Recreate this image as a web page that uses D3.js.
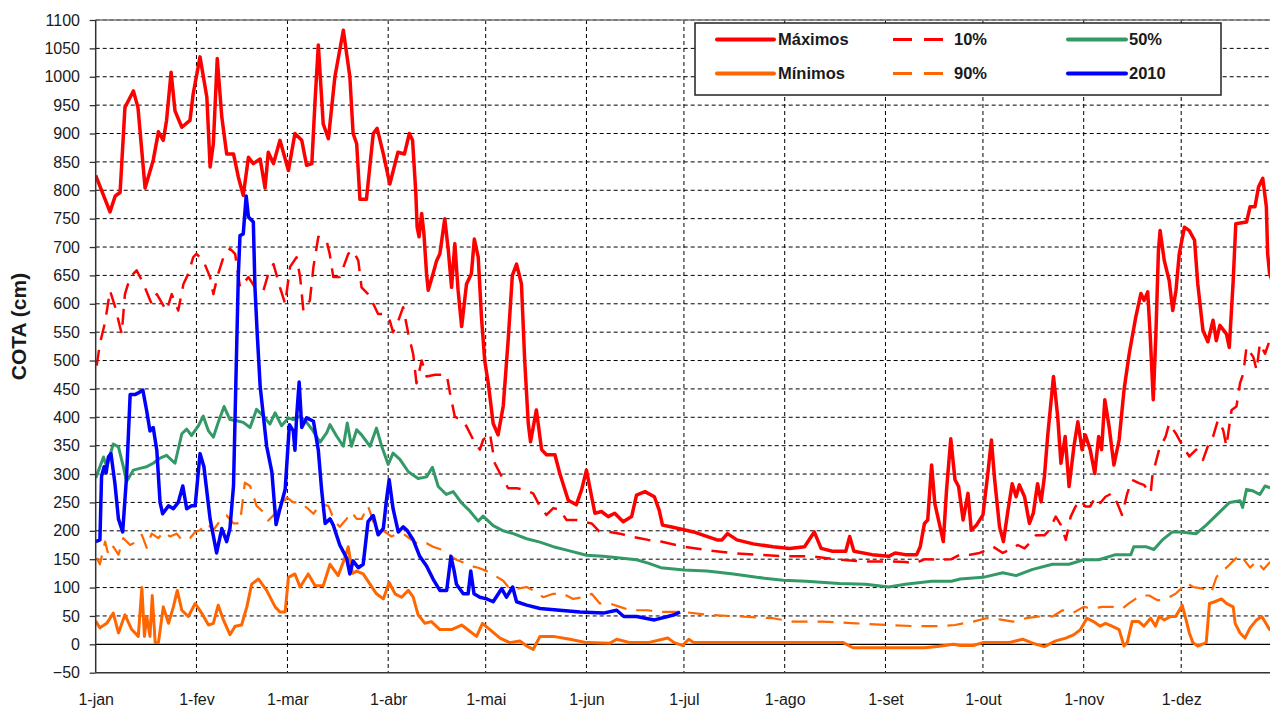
<!DOCTYPE html>
<html>
<head>
<meta charset="utf-8">
<script src="https://d3js.org/d3.v7.min.js"></script>
<style>
  body { margin: 0; background: #fff; }
  svg { display: block; }
  text { font-family: Arial, "Liberation Sans", sans-serif; fill: #1a1a1a; }
</style>
</head>
<body>
<svg id="chart" width="1270" height="711"></svg>
<script>
// day of year (0 = 1-jan) for each month start, and its label
const monthDays = [0, 31, 59, 90, 120, 151, 181, 212, 243, 273, 304, 334];
const monthLabels = ["1-jan", "1-fev", "1-mar", "1-abr", "1-mai", "1-jun", "1-jul", "1-ago", "1-set", "1-out", "1-nov", "1-dez"];
const yTicks = d3.range(-50, 1101, 50);

// [day, cota]
const maximos = [[0,826],[4.4,762],[6,790],[7.5,796],[9,946],[11.6,975],[13,946],[15.2,804],[17.7,853],[19.3,903],[20.8,888],[21.8,923],[23.2,1008],[24.4,940],[26.5,911],[29,923],[30,970],[32.1,1035],[34.2,964],[35.2,841],[36.2,882],[37.4,1032],[38.8,929],[40.3,864],[42.4,864],[43.9,823],[45.4,791],[47,858],[48.5,847],[50.6,855],[52.1,804],[53.1,867],[54.7,847],[56.7,888],[59.3,835],[61.3,900],[63.4,888],[64.9,844],[66.5,847],[67.5,958],[68.5,1056],[70,917],[71.6,891],[73.6,1000],[76.2,1082],[78.2,1000],[79.2,900],[80.3,882],[81.3,784],[83.3,784],[85.4,900],[86.6,909],[88.5,864],[90.5,811],[93,867],[95,864],[96.5,900],[97.5,888],[98.5,795],[98.9,735],[99.5,718],[100.3,759],[101,723],[101.8,653],[102.3,624],[103.8,653],[104.9,676],[105.9,688],[107.4,750],[108.5,694],[109.5,629],[110.5,706],[111.5,624],[112.6,560],[114.1,635],[115.6,653],[116.5,714],[117.7,682],[118.7,576],[119.7,500],[120.8,459],[122.3,389],[123.8,369],[125.4,420],[126.9,535],[128.2,650],[129.5,670],[131,635],[132,500],[133.1,389],[133.8,357],[135.6,413],[137.2,343],[138.7,334],[141.3,334],[142.8,301],[145.4,254],[147.9,246],[149.5,272],[151,307],[152.6,260],[153.6,231],[155.6,234],[157.7,225],[159.7,231],[162.3,216],[164.9,225],[166.4,263],[169,269],[171.9,260],[173.4,236],[174.4,210],[176.9,207],[181,202],[184,198],[187.1,192],[191.2,184],[192.7,184],[194.4,195],[197.3,184],[202.3,177],[208.4,172],[213.5,169],[218.1,172],[221.1,198],[223.2,169],[226.7,164],[230.8,164],[232,190],[233.3,164],[238.9,158],[244,155],[246,161],[249.1,158],[252.6,158],[253.7,172],[255,213],[256,219],[257.2,316],[258.2,248],[259.8,207],[260.8,181],[261.8,272],[263.1,362],[264.4,290],[265.5,278],[266.9,219],[268.4,266],[269.4,201],[271,210],[273,228],[274.5,301],[275.6,360],[276.6,290],[278.1,207],[279.3,181],[280.7,236],[282,283],[283.2,260],[284.2,281],[285.8,260],[287.3,213],[288.5,231],[289.8,283],[290.9,251],[291.9,295],[292.9,366],[294.7,472],[296,401],[297,319],[298.3,366],[299.5,278],[301,349],[302.2,392],[303.5,343],[304.5,369],[306,343],[307.4,301],[308.6,366],[309.5,343],[310.5,431],[311.8,384],[313.3,316],[314.9,360],[316.4,448],[318,512],[320,576],[321.6,618],[322.6,606],[323.7,621],[324.5,540],[325.4,431],[326.2,545],[327,694],[327.5,729],[328.8,676],[330.3,641],[331.4,588],[332.4,624],[333.4,688],[335,735],[336.5,729],[338.1,712],[339.1,635],[340.7,553],[342.2,533],[343.8,571],[344.8,535],[345.9,562],[347.9,547],[348.8,523],[350,641],[350.8,741],[354.1,744],[355.2,771],[356.7,771],[357.8,806],[359.1,821],[360.2,771],[360.6,688],[361.2,653],[362,640]];

const p10 = [[0.3,491],[1.3,530],[2.9,568],[4.4,623],[6,594],[8,547],[9,617],[10.6,647],[12.6,659],[14.7,635],[17.2,600],[18.8,617],[20.8,597],[21.8,588],[23.4,617],[25.4,588],[27,635],[28.5,653],[30,682],[31,688],[33.1,676],[35.2,647],[36.2,617],[37.7,653],[39.3,682],[41.3,697],[42.9,688],[44.4,629],[47,647],[49,629],[51.6,623],[53.1,653],[54.7,670],[56.7,629],[58.3,600],[59.8,665],[61.8,682],[62.9,647],[63.9,588],[65.9,606],[67,665],[68.5,718],[71,712],[72,688],[73.1,647],[75.1,647],[77.7,688],[79.2,694],[80.8,676],[81.8,629],[83.8,617],[85.4,600],[86.9,582],[89,582],[90.5,570],[91.5,550],[93.1,570],[94.6,594],[96.2,547],[97.7,511],[98.7,460],[100.3,500],[101.8,472],[104.4,475],[108,475],[109,443],[110.5,401],[112.6,395],[114.1,384],[116.2,360],[118.2,343],[119.2,360],[121.3,372],[122.8,319],[124.9,296],[126.9,275],[129.5,275],[132,272],[134.6,266],[136.7,243],[138.7,228],[140.8,240],[142.8,237],[144.9,219],[147.9,219],[150,216],[152.6,213],[155.1,198],[158.2,198],[161.3,195],[164.4,190],[167.4,187],[170,184],[173.9,181],[181,172],[188.1,166],[195.2,161],[203.4,158],[211.5,155],[220.6,155],[228.8,149],[236.9,146],[244,146],[249.1,145],[252.1,143],[255.2,150],[259.3,149],[263.3,150],[265.9,158],[269,158],[272,161],[274,166],[276.1,172],[279.1,161],[282.2,169],[283.7,175],[285.8,169],[287.8,181],[289.3,192],[291.9,192],[293.4,201],[295.4,225],[297,210],[298.5,184],[300,225],[301.5,243],[303,254],[304.5,243],[306,243],[307.6,260],[309.1,249],[310.7,260],[312.7,266],[314.3,249],[315.8,228],[317.4,266],[318.9,290],[321,284],[322.5,281],[324.6,266],[325.1,295],[326.1,319],[327.2,343],[329.2,366],[330.3,389],[332.3,372],[334.5,349],[336.5,331],[338.6,343],[340.7,325],[342.2,349],[343.8,366],[345.3,395],[346.9,378],[347.9,349],[349.5,413],[351,419],[352.1,460],[353.1,477],[354.1,524],[356.2,506],[357.2,483],[358.2,530],[359.8,512],[361.2,535],[362,530]];

const p50 = [[0,293],[1.3,313],[2.4,330],[3.4,313],[5.4,353],[7,348],[8.5,313],[9.5,287],[11.6,307],[13.6,310],[15.7,313],[17.7,319],[19.8,328],[21.8,333],[24.4,319],[26.5,371],[28,379],[29.5,368],[31.6,385],[33.1,402],[34.7,376],[36.2,365],[37.7,391],[39.5,419],[41.3,396],[43.4,394],[45.4,391],[47.5,382],[49.5,414],[51.6,402],[53.6,388],[55.2,408],[57.2,385],[59.3,399],[60.8,396],[62.9,402],[64.9,391],[66.9,376],[69,356],[71.1,373],[72.1,387],[74.1,367],[76.2,349],[77.4,390],[78.7,349],[80.3,378],[81.8,369],[84.4,349],[86.4,381],[88,349],[90,317],[91.5,337],[93.6,326],[96.2,304],[99.2,292],[101.8,295],[103.6,312],[105.4,278],[107.9,264],[110,269],[112.6,249],[115.1,235],[117.7,217],[119.2,226],[122.3,209],[125.4,200],[128.5,195],[132.6,186],[136.7,180],[140.8,172],[144.9,166],[151,157],[156.1,155],[161.3,152],[166.4,149],[170,143],[173.9,135],[181,131],[188.1,129],[196.2,124],[203.4,118],[211.5,113],[218.6,111],[228.8,107],[236.9,106],[244,101],[249.1,106],[257.2,111],[263.3,111],[266,115],[273,118],[279.1,126],[283.2,121],[288.3,132],[294.4,141],[299.5,141],[304,149],[308.7,149],[313.8,158],[318.5,158],[319.4,172],[323.1,172],[325.6,167],[328.2,184],[331.3,198],[333.9,198],[338.6,195],[341.7,210],[345.8,233],[348.9,250],[352.1,253],[352.9,241],[354.1,273],[356.2,270],[358.2,264],[359.8,279],[361.2,276],[362,278]];

const p90 = [[0.3,152],[1.3,141],[2.9,181],[3.9,158],[5.4,172],[7,158],[8.5,187],[10.6,175],[12.6,181],[14.2,193],[15.7,170],[17.2,195],[19.3,187],[20.8,198],[22.9,190],[24.9,195],[26.5,184],[29,187],[30.6,198],[32.1,201],[34.2,213],[36.2,201],[38.3,218],[40.3,227],[42.4,213],[44.4,213],[45.9,285],[47.5,279],[49.5,244],[51.6,233],[53.1,218],[56.2,236],[58.8,259],[60.8,250],[62.9,250],[64.9,241],[67,230],[69,247],[71.6,244],[73.6,216],[75.1,207],[77.2,221],[78.7,233],[80.3,221],[81.8,221],[83.8,244],[85.4,216],[86.9,207],[89,198],[91,190],[93.1,195],[95.1,193],[97.2,184],[99.7,175],[101.8,178],[103.8,172],[106.4,167],[108.5,158],[111,149],[113.1,144],[115.6,138],[117.7,135],[120.3,129],[122.8,121],[125.4,112],[127.4,98],[129.5,98],[132.6,101],[135.6,92],[137.7,83],[140.8,89],[143.8,89],[146.9,80],[150,83],[152.6,89],[155.1,72],[158.2,72],[161.3,66],[164.4,60],[167.4,60],[169.8,60],[173.9,57],[181,57],[188.1,52],[198.3,49],[208.4,46],[214.5,40],[223.7,40],[233.8,37],[244,34],[252.1,32],[259.3,32],[264.4,34],[267.9,38],[270,40],[274,46],[278.1,44],[282.2,40],[286.3,46],[290.3,49],[294.4,49],[297.5,60],[300.6,55],[304,66],[306.6,63],[309.7,66],[312.8,66],[315.9,63],[317.9,72],[319.4,78],[321.5,86],[324.1,86],[326.6,78],[328.2,78],[330.3,83],[332.3,89],[333.9,98],[335.5,109],[337.6,101],[340.7,98],[343.3,92],[344.8,118],[346.4,129],[347.9,135],[350,147],[352.1,158],[353.6,147],[355.2,135],[357.2,147],[359.3,132],[361.2,144],[362,142]];

const minimos = [[0,41],[1.3,29],[3.4,37],[5.4,55],[7,20],[9,52],[11.1,26],[13.1,14],[14.2,100],[15,14],[15.7,49],[16.7,14],[17.4,86],[18.3,3],[19.3,3],[20.8,66],[22.4,37],[23.9,66],[25.1,95],[26.5,60],[28.5,49],[30.6,72],[32.6,55],[34.7,34],[36.2,37],[37.7,69],[39.3,43],[41.3,17],[42.9,32],[44.9,34],[46.5,66],[48,106],[50.1,115],[52.6,95],[55.2,66],[56.7,57],[58.3,57],[59.3,118],[61.3,124],[62.9,101],[65.4,124],[67.5,103],[70,103],[72.1,141],[74.6,121],[76.5,150],[77.7,172],[79,125],[80.3,129],[82.3,124],[84.4,106],[86.4,89],[88.5,80],[90.3,109],[92.1,89],[94.1,83],[96.2,95],[97.7,83],[99.2,52],[101.3,37],[103.3,40],[105.9,26],[109.5,26],[112.6,34],[115.1,23],[117.2,14],[119,37],[121.3,26],[124.4,11],[127.4,3],[130.5,6],[132.6,-3],[134.6,-9],[136.7,14],[140.8,14],[145.9,9],[151,3],[158.2,2],[160.3,9],[164.4,3],[170,3],[176,11],[178,3],[180.5,-2],[182.5,9],[184,3],[200,3],[215,3],[230,3],[233,-6],[250,-6],[255,-6],[259,-4],[264,0],[266,-2],[270,-2],[273,3],[281,3],[285.2,9],[288.3,2],[291.9,-4],[295.4,6],[298.5,11],[301,17],[303,26],[305,46],[307,40],[309.1,32],[310.7,37],[312.7,32],[314.9,26],[316.4,-3],[317.4,3],[318.9,40],[321,40],[322.5,32],[324.6,46],[326.1,32],[327.2,49],[328.8,43],[330.8,49],[332.3,49],[334.3,69],[335.5,43],[336.5,20],[337.6,3],[339.1,-3],[341.7,3],[342.7,72],[344.3,75],[346.4,80],[347.9,72],[350,66],[350.6,37],[352.1,20],[353.6,11],[355.2,29],[357.2,43],[358.8,49],[361.2,26],[362,25]];

const ano2010 = [[0,181],[1.3,184],[1.8,296],[2.6,313],[3.2,302],[3.9,330],[4.7,336],[5.9,284],[7,221],[8.3,198],[9.5,296],[10.6,440],[12.1,440],[13.1,443],[14.5,448],[15.7,411],[16.7,376],[17.7,382],[18.8,342],[19.8,250],[20.6,230],[22.4,244],[23.9,239],[25.4,250],[26.8,279],[28,239],[29.5,244],[30.6,244],[32.1,336],[33.3,313],[35.2,221],[37.2,161],[38.8,204],[40.3,181],[41.3,204],[42.4,279],[43.4,530],[43.9,653],[44.4,720],[45.4,723],[46.3,790],[47,753],[48.5,744],[49,629],[49.7,547],[50.6,455],[52.6,349],[54.2,304],[55.5,211],[56.7,239],[58.3,273],[59.6,387],[60.8,376],[61.3,342],[61.8,399],[62.6,462],[63.4,382],[64.9,399],[67,393],[68.5,342],[69.5,273],[70.6,213],[72.1,221],[73.1,210],[75.1,175],[77.2,152],[78.2,124],[79.2,147],[80.8,135],[82.3,141],[83.8,216],[85.4,227],[86.9,193],[88.5,204],[89.5,256],[90.3,290],[91.5,239],[93.1,198],[94.6,207],[95.8,201],[97.7,184],[99.7,155],[101.8,138],[103.8,115],[105.9,95],[108,95],[109.3,155],[110.3,129],[111,106],[113.1,89],[114.6,89],[115.4,129],[116.4,89],[118.2,83],[120.3,80],[122.3,75],[124.9,98],[126.4,83],[128.3,101],[129.5,75],[132.6,69],[136.7,63],[142.8,60],[149,57],[156.2,55],[160.3,60],[162.5,49],[166.4,49],[171.9,43],[176,49],[178,52],[179.8,57]];

const series = [
  { name: "50%",     data: p50,     color: "#339966", width: 3,   dash: null },
  { name: "90%",     data: p90,     color: "#ff6600", width: 2.2, dash: "16,10" },
  { name: "10%",     data: p10,     color: "#ff0000", width: 2.5, dash: "16,10" },
  { name: "Mínimos", data: minimos, color: "#ff6600", width: 3,   dash: null },
  { name: "Máximos", data: maximos, color: "#ff0000", width: 3.5, dash: null },
  { name: "2010",    data: ano2010, color: "#0000ff", width: 3.5, dash: null }
];

const W = 1270, H = 711;
const x0 = 95.7, yTop = 20, yBot = 672.7;

const x = d3.scaleLinear().domain([0, 365]).range([x0, x0 + 365 * 3.25]);
const y = d3.scaleLinear().domain([-50, 1100]).range([yBot, yTop]);

const svg = d3.select("#chart");

svg.append("defs").append("clipPath").attr("id", "plot")
  .append("rect").attr("x", x0).attr("y", yTop - 2).attr("width", W - x0).attr("height", yBot - yTop + 4);

// grid
const grid = svg.append("g");
grid.selectAll(".hg")
  .data(yTicks.filter(d => d !== 0 && d !== -50))
  .enter().append("line")
  .attr("x1", x0).attr("x2", W)
  .attr("y1", d => y(d)).attr("y2", d => y(d))
  .attr("stroke", "#000").attr("stroke-width", 1).attr("stroke-dasharray", "4,3");

grid.selectAll(".vg")
  .data(monthDays.slice(1))
  .enter().append("line")
  .attr("x1", d => x(d)).attr("x2", d => x(d))
  .attr("y1", yTop).attr("y2", yBot)
  .attr("stroke", "#000").attr("stroke-width", 1).attr("stroke-dasharray", "4,3");

// top border and zero line
svg.append("line").attr("x1", x0).attr("x2", W).attr("y1", yTop).attr("y2", yTop)
  .attr("stroke", "#777").attr("stroke-width", 1.5);
svg.append("line").attr("x1", x0).attr("x2", W).attr("y1", y(0)).attr("y2", y(0))
  .attr("stroke", "#000").attr("stroke-width", 1.3);

// series
const line = d3.line().x(d => x(d[0])).y(d => y(d[1]));
const plot = svg.append("g").attr("clip-path", "url(#plot)");
series.forEach(s => {
  plot.append("path")
    .datum(s.data)
    .attr("d", line)
    .attr("fill", "none")
    .attr("stroke", s.color)
    .attr("stroke-width", s.width)
    .attr("stroke-linejoin", "round")
    .attr("stroke-dasharray", s.dash);
});

// axes
const yAxis = svg.append("g").attr("transform", `translate(${x0},0)`)
  .call(d3.axisLeft(y).tickValues(yTicks).tickFormat(d3.format("d")).tickSize(6).tickPadding(9.7));
yAxis.select(".domain").remove();
yAxis.selectAll(".tick line").attr("stroke", "#333").attr("stroke-width", 1.3);
yAxis.selectAll("text").attr("font-size", 16).attr("fill", "#1a1a1a")
  .attr("font-family", "Arial, 'Liberation Sans', sans-serif");

const xAxis = svg.append("g").attr("transform", `translate(0,${yBot})`)
  .call(d3.axisBottom(x).tickValues(monthDays).tickFormat((d, i) => monthLabels[i]).tickSize(0).tickPadding(21));
xAxis.select(".domain").remove();
xAxis.selectAll("text").attr("font-size", 16).attr("fill", "#1a1a1a")
  .attr("font-family", "Arial, 'Liberation Sans', sans-serif");

svg.append("line").attr("x1", x0).attr("x2", x0).attr("y1", yTop).attr("y2", yBot)
  .attr("stroke", "#333").attr("stroke-width", 1.5);
svg.append("line").attr("x1", x0).attr("x2", W).attr("y1", yBot).attr("y2", yBot)
  .attr("stroke", "#333").attr("stroke-width", 1.5);

// y title
svg.append("text")
  .attr("transform", "translate(26,326.5) rotate(-90)")
  .attr("text-anchor", "middle")
  .attr("font-size", 21).attr("font-weight", "bold")
  .text("COTA (cm)");

// legend
const legendItems = [
  { name: "Máximos", color: "#ff0000", dash: null,    col: 0, row: 0, w: 4 },
  { name: "10%",     color: "#ff0000", dash: "19,12", col: 1, row: 0, w: 3 },
  { name: "50%",     color: "#339966", dash: null,    col: 2, row: 0, w: 4 },
  { name: "Mínimos", color: "#ff6600", dash: null,    col: 0, row: 1, w: 4 },
  { name: "90%",     color: "#ff6600", dash: "19,12", col: 1, row: 1, w: 3 },
  { name: "2010",    color: "#0000ff", dash: null,    col: 2, row: 1, w: 4 }
];
const colX = [717, 893, 1068];
const colLen = [57, 50, 58];
const colText = [778, 954, 1129];
const rowY = [39.5, 73.5];

const legend = svg.append("g");
legend.append("rect").attr("x", 695).attr("y", 23).attr("width", 526).attr("height", 72)
  .attr("fill", "#fff").attr("stroke", "#222").attr("stroke-width", 1.5);
legendItems.forEach(it => {
  legend.append("line")
    .attr("x1", colX[it.col]).attr("x2", colX[it.col] + colLen[it.col])
    .attr("y1", rowY[it.row]).attr("y2", rowY[it.row])
    .attr("stroke", it.color).attr("stroke-width", it.w)
    .attr("stroke-linecap", it.dash ? "butt" : "round")
    .attr("stroke-dasharray", it.dash);
  legend.append("text")
    .attr("x", colText[it.col]).attr("y", rowY[it.row] + 5.7)
    .attr("font-size", 16.5).attr("font-weight", "bold")
    .text(it.name);
});
</script>
</body>
</html>
